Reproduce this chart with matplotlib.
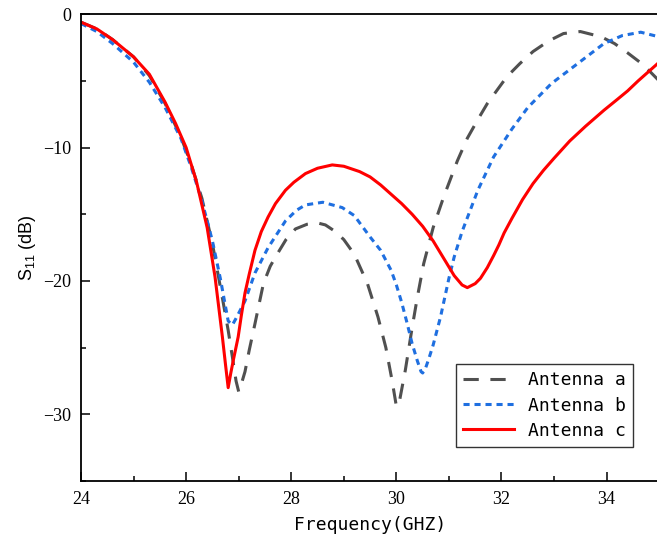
import matplotlib.pyplot as plt

# S11 curves, frequency in GHz, return loss in dB
freq_a = [24.0, 24.3, 24.6, 25.0, 25.3, 25.6, 25.9, 26.1, 26.3, 26.5, 26.7, 26.8,
          26.88, 26.95, 27.0, 27.06, 27.12, 27.2, 27.31, 27.47, 27.6, 27.7, 27.9,
          28.08, 28.3, 28.5, 28.65, 28.84, 29.0, 29.2, 29.45, 29.65, 29.8, 29.92,
          30.0, 30.05, 30.17, 30.3, 30.4, 30.52, 30.7, 30.9, 31.16, 31.35, 31.55,
          31.73, 32.1, 32.35, 32.6, 32.9, 33.18, 33.5, 33.9, 34.15, 34.4, 34.7, 35.0]
s11_a = [-0.6, -1.1, -1.9, -3.2, -4.6, -6.7, -9.2, -11.3, -13.8, -17.2, -21.5, -23.7,
         -25.7, -27.5, -28.3, -27.6, -26.8, -25.2, -23.2, -20.2, -18.9, -18.2, -16.9,
         -16.1, -15.75, -15.65, -15.8, -16.3, -16.9, -18.0, -20.2, -22.7, -25.0, -27.5,
         -29.4, -29.2, -26.7, -23.5, -21.2, -18.7, -16.0, -13.7, -11.0, -9.3, -7.9,
         -6.7, -4.7, -3.7, -2.8, -2.0, -1.45, -1.3, -1.7, -2.2, -2.9, -3.8, -5.0]

freq_b = [24.0, 24.3, 24.6, 25.0, 25.3, 25.6, 25.9, 26.1, 26.3, 26.5, 26.65, 26.8,
          26.88, 26.95, 27.12, 27.31, 27.56, 27.89, 28.1, 28.27, 28.6, 28.97, 29.2,
          29.5, 29.7, 29.9, 30.0, 30.1, 30.2, 30.3, 30.4, 30.47, 30.5, 30.55, 30.62,
          30.7, 30.84, 31.0, 31.1, 31.25, 31.55, 31.85, 32.2, 32.5, 32.95, 33.45, 33.95,
          34.3, 34.65, 35.0]
s11_b = [-0.7, -1.3, -2.2, -3.6, -5.1, -7.0, -9.3, -11.5, -14.0, -17.0, -19.8, -23.0,
         -23.3, -22.8, -21.5, -19.4, -17.5, -15.5, -14.7, -14.3, -14.1, -14.5, -15.1,
         -16.7, -17.7, -19.2, -20.3, -21.6, -23.1, -24.7, -26.0, -26.8, -26.9, -26.6, -25.8,
         -24.8, -22.7, -19.8, -18.2, -16.3, -13.2, -10.7, -8.6, -7.0, -5.2, -3.7, -2.2,
         -1.6, -1.35, -1.7]

freq_c = [24.0, 24.3, 24.6, 25.0, 25.3, 25.6, 25.8, 26.0, 26.2, 26.4, 26.55, 26.69,
          26.75, 26.8, 26.85, 26.9, 26.99, 27.05, 27.12, 27.2, 27.31, 27.43, 27.56,
          27.7, 27.89, 28.05, 28.27, 28.5, 28.78, 29.0, 29.3, 29.5, 29.7, 29.9, 30.1,
          30.3, 30.5, 30.7, 30.9, 31.1, 31.25, 31.35, 31.5, 31.6, 31.73, 31.85, 31.95,
          32.05, 32.2, 32.4, 32.6, 32.8, 33.0, 33.3, 33.6, 33.95, 34.2, 34.4, 34.6,
          34.8, 35.0]
s11_c = [-0.6, -1.1, -1.9, -3.2, -4.5, -6.6, -8.2, -10.0, -12.6, -16.0, -19.7, -24.2,
         -26.3, -28.0, -26.9, -25.9, -24.2, -22.6, -20.9, -19.5, -17.7, -16.3, -15.2,
         -14.2, -13.2, -12.6, -11.95, -11.55, -11.3, -11.4, -11.8, -12.2, -12.8, -13.5, -14.2,
         -15.0, -15.9, -17.0, -18.3, -19.6, -20.3, -20.5, -20.2, -19.8, -19.0, -18.1, -17.3,
         -16.4, -15.3, -13.9, -12.7, -11.7, -10.8, -9.5, -8.4, -7.2, -6.4, -5.75, -5.0,
         -4.3, -3.6]

labels = ['Antenna a', 'Antenna b', 'Antenna c']

plt.rcParams['font.family'] = 'Liberation Serif'
plt.rcParams['mathtext.default'] = 'regular'

fig = plt.figure(figsize=(6.57, 5.46), dpi=100)
ax = fig.add_axes([0.1233, 0.119, 0.880, 0.855])

ax.plot(freq_a, s11_a, color='#505050', lw=2.2, dashes=(5, 3.8), label=labels[0])
ax.plot(freq_b, s11_b, color='#1f6fe0', lw=2.2, dashes=(2, 1.6), label=labels[1])
ax.plot(freq_c, s11_c, color='#ff0000', lw=2.2, label=labels[2])

ax.set_xlim(24, 35)
ax.set_ylim(-35, 0)
ax.set_xticks([24, 26, 28, 30, 32, 34])
ax.set_xticks([25, 27, 29, 31, 33], minor=True)
ax.set_yticks([-30, -20, -10, 0])
ax.set_yticks([-35, -25, -15, -5], minor=True)

ax.tick_params(which='both', direction='in', width=1.1, pad=7,
               labelsize=13, top=False, right=False)
ax.tick_params(which='major', length=6.5)
ax.tick_params(which='minor', length=3.5)
for sp in ax.spines.values():
    sp.set_linewidth(1.3)

ax.set_xlabel('Frequency(GHZ)', fontsize=13, family='DejaVu Sans Mono', labelpad=6)
ax.set_ylabel('S$_{11}$ (dB)', fontsize=13, family='Liberation Sans', labelpad=4)

leg = ax.legend(loc='lower right', bbox_to_anchor=(0.955, 0.073), borderaxespad=0,
                fancybox=False, framealpha=1, edgecolor='#333333', handlelength=2.8,
                prop={'family': 'DejaVu Sans Mono', 'size': 13}, labelspacing=0.4)
leg.get_frame().set_linewidth(1.0)

fig.savefig('out.png', dpi=100)
